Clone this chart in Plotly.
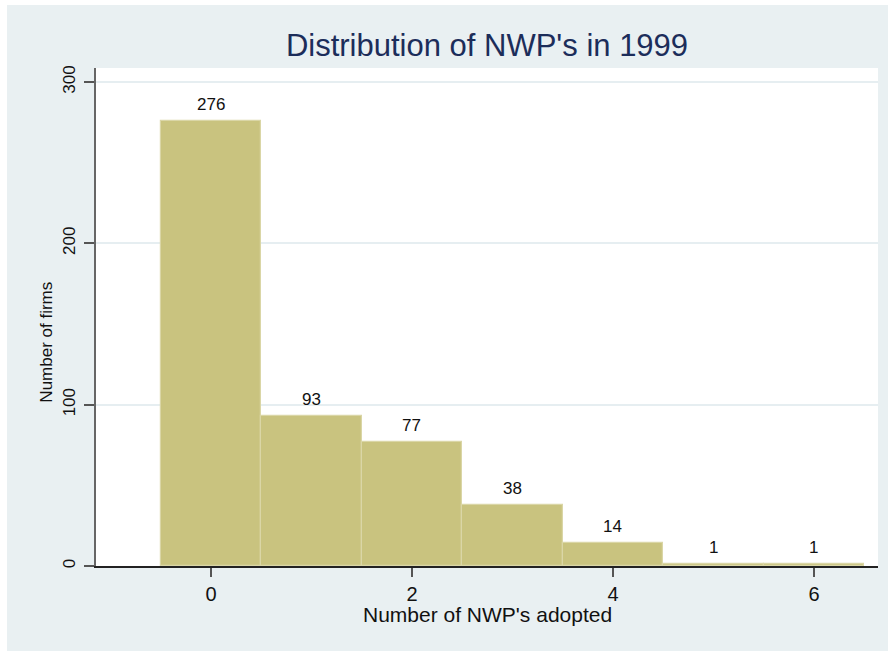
import plotly.graph_objects as go

# Data
nwp_adopted = [0, 1, 2, 3, 4, 5, 6]
num_firms = [276, 93, 77, 38, 14, 1, 1]
x_tick_vals = [0, 2, 4, 6]
y_tick_vals = [0, 100, 200, 300]

BG = "#E9F0F2"
FONT = "Liberation Sans, Arial, Helvetica, sans-serif"

fig = go.Figure()
fig.add_trace(go.Bar(
    x=nwp_adopted,
    y=num_firms,
    width=1,
    marker=dict(color="#C9C37F", line=dict(color="#DAD6A6", width=1.2)),
    hoverinfo="x+y",
))

annotations = []
for xv, yv in zip(nwp_adopted, num_firms):
    annotations.append(dict(
        x=xv, y=yv, xref="x", yref="y", text=str(yv), showarrow=False,
        yanchor="bottom", xanchor="center", yshift=5,
        font=dict(family=FONT, size=17, color="#111111"),
    ))

# axis titles
annotations.append(dict(
    x=0.5, y=-0.097, xref="paper", yref="paper", text="Number of NWP's adopted",
    showarrow=False, xanchor="center", yanchor="middle",
    font=dict(family=FONT, size=21, color="#111111"),
))
annotations.append(dict(
    x=-0.063, y=0.45, xref="paper", yref="paper", text="Number of firms",
    showarrow=False, xanchor="center", yanchor="middle", textangle=-90,
    font=dict(family=FONT, size=17, color="#111111"),
))

fig.update_layout(
    width=881,
    height=646,
    paper_bgcolor=BG,
    plot_bgcolor="white",
    margin=dict(l=89, r=10, t=63, b=84.5, pad=0),
    bargap=0,
    showlegend=False,
    title=dict(
        text="Distribution of NWP's in 1999",
        x=0.5, xref="paper", xanchor="center",
        y=0.938, yref="container", yanchor="middle",
        font=dict(family=FONT, size=31, color="#1C2D5A"),
    ),
    annotations=annotations,
    xaxis=dict(
        range=[-1.144, 6.637],
        tickmode="array", tickvals=x_tick_vals,
        ticktext=[str(v) for v in x_tick_vals],
        ticks="outside", ticklen=9, tickwidth=1.5, tickcolor="#555555",
        showline=True, linecolor="#222222", linewidth=1.5,
        showgrid=False, zeroline=False,
        tickfont=dict(family=FONT, size=20, color="#111111"),
        ticklabelstandoff=0,
    ),
    yaxis=dict(
        range=[0, 308.7],
        tickmode="array", tickvals=y_tick_vals,
        ticktext=[str(v) for v in y_tick_vals],
        ticks="outside", ticklen=10, tickwidth=1.5, tickcolor="#555555",
        showline=True, linecolor="#666666", linewidth=1.5,
        showgrid=True, gridcolor="#E6EEF1", gridwidth=1.5,
        zeroline=False, tickangle=-90,
        tickfont=dict(family=FONT, size=17, color="#111111"),
        ticklabelstandoff=2,
    ),
)

fig.write_html(
    "out.html",
    post_script="document.body.style.margin='5px 0 0 7px';document.body.style.overflow='hidden';document.body.style.background='white';",
)
